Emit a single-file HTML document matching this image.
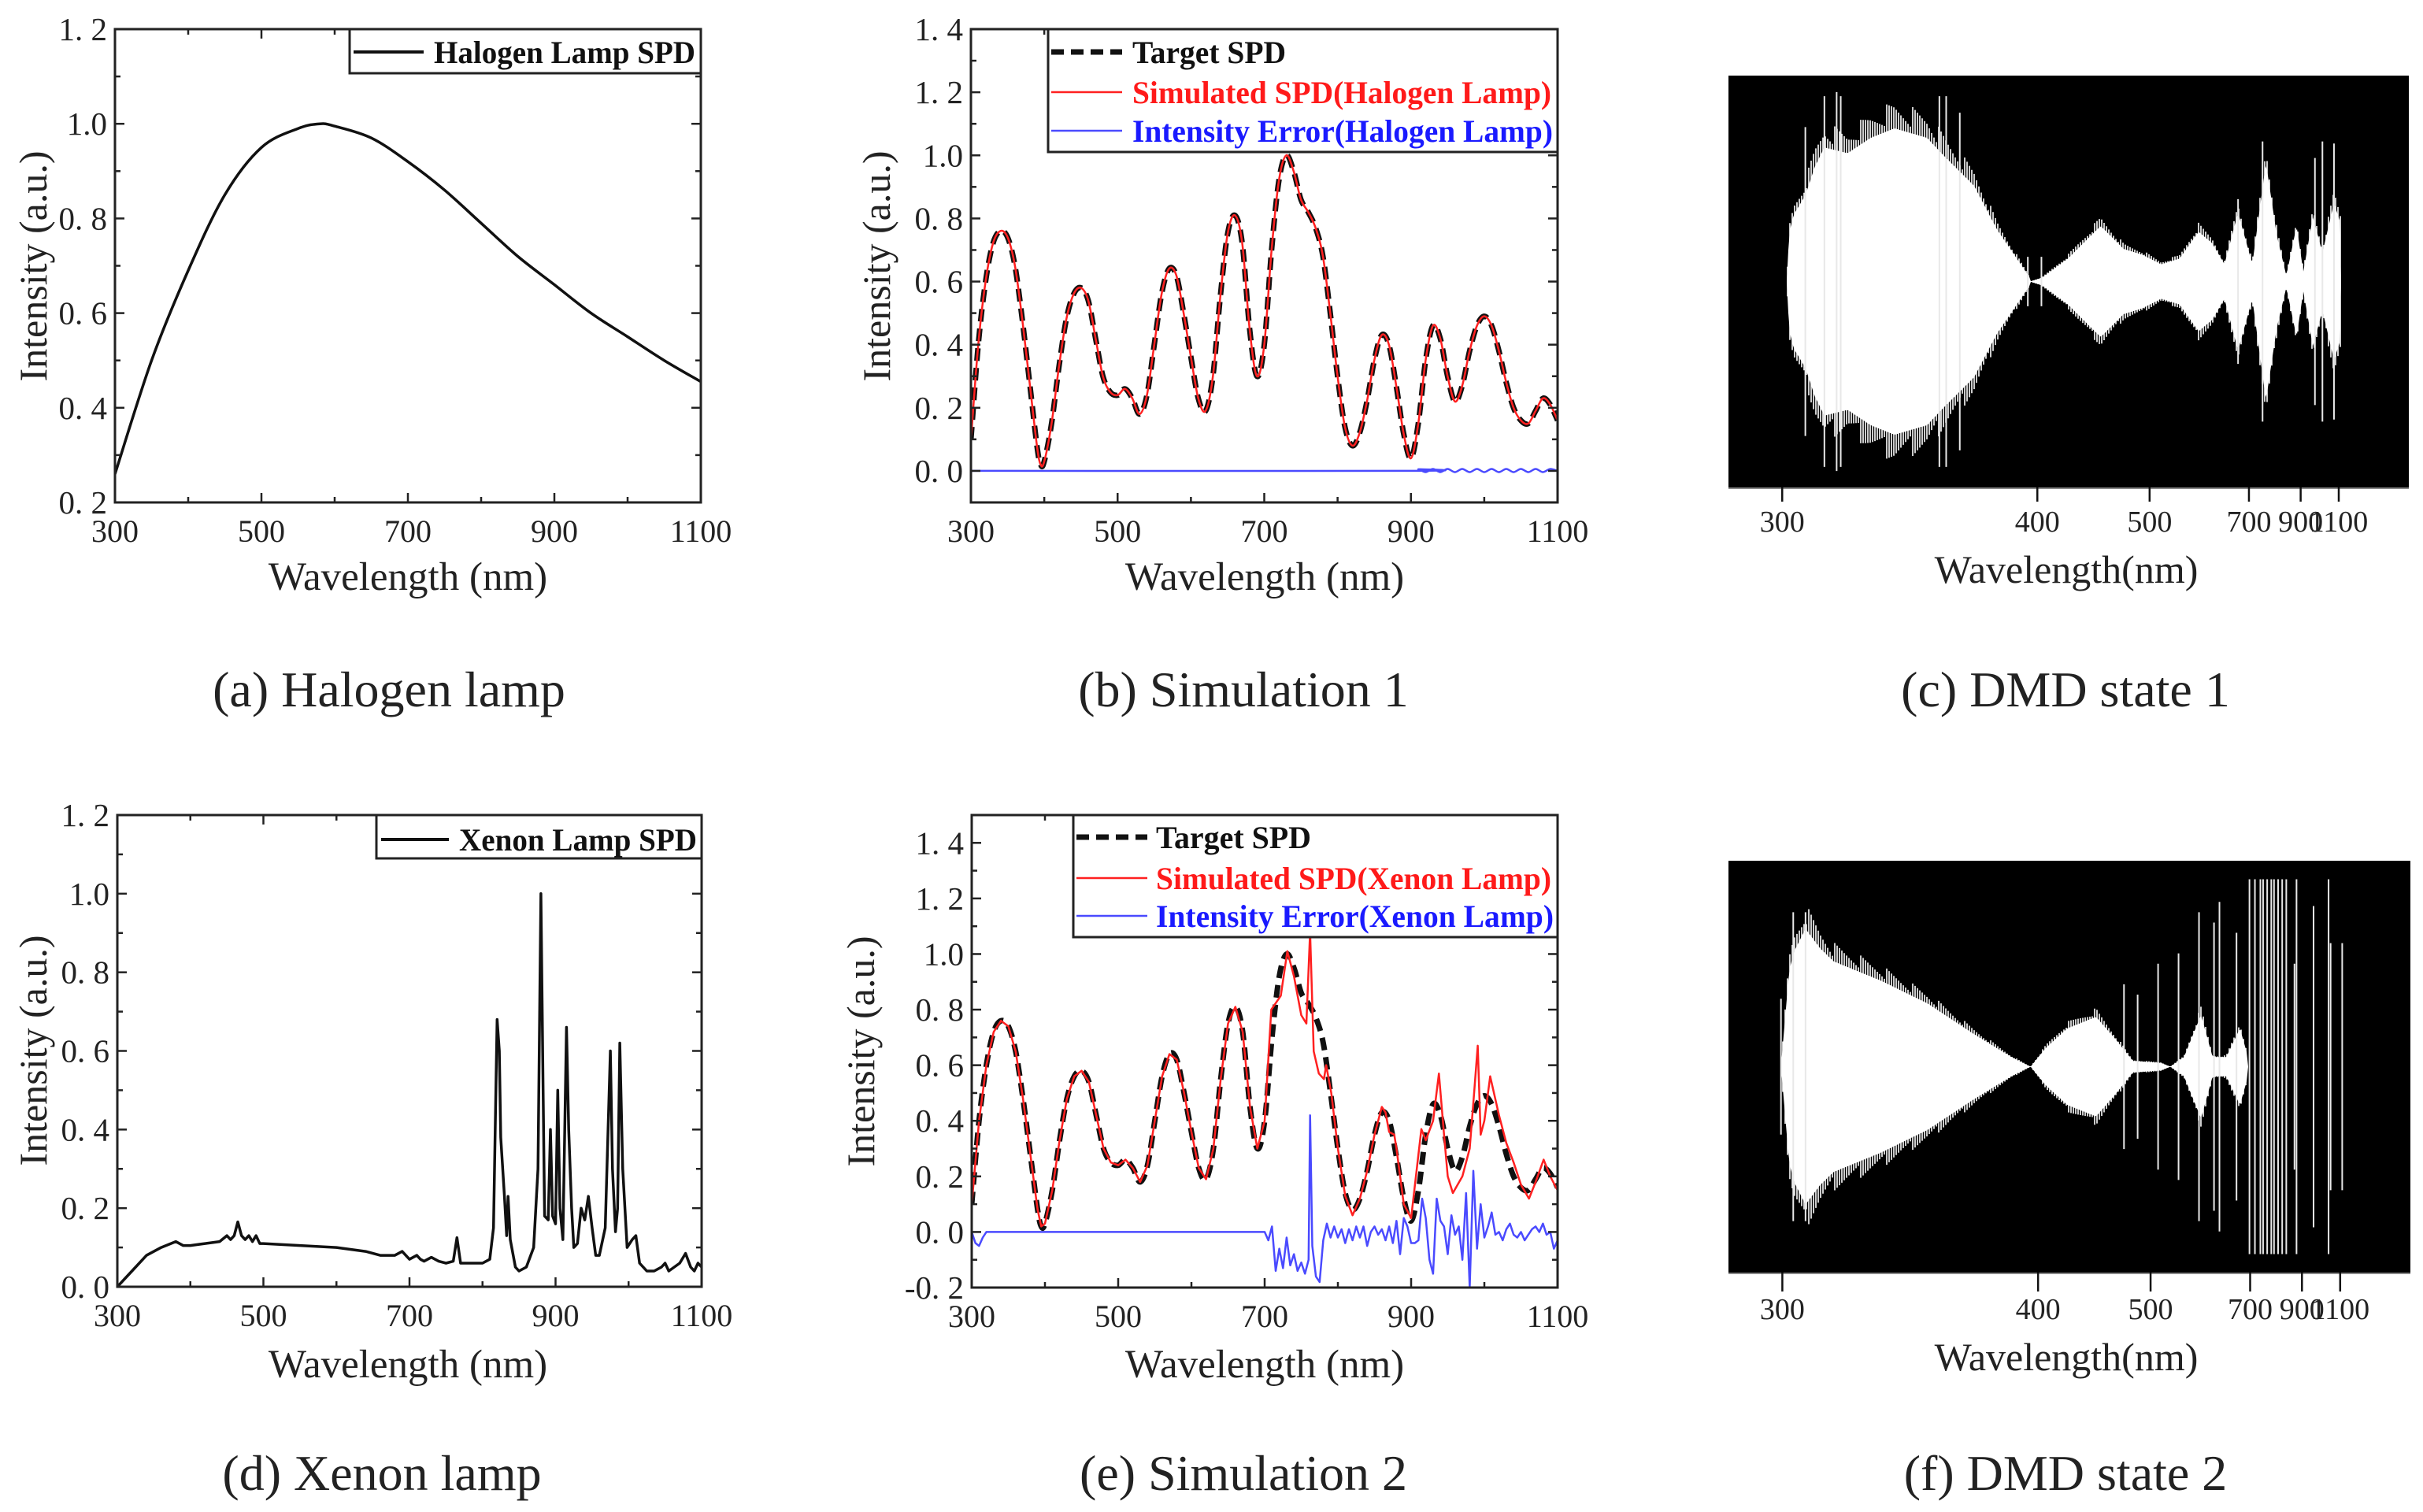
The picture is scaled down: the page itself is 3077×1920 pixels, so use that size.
<!DOCTYPE html>
<html><head><meta charset="utf-8"><style>
html,body{margin:0;padding:0;background:#fff;}
svg{display:block;font-family:"Liberation Serif",serif;}
</style></head><body>
<svg id="fig" width="3077" height="1920" viewBox="0 0 3077 1920" xmlns="http://www.w3.org/2000/svg"></svg>
<script>
// ---------- DATA ----------
const targetWl = [300,310,320,330,340,350,360,370,380,390,395,400,410,420,430,440,450,460,470,480,490,500,510,520,530,540,550,560,570,580,590,600,610,620,630,640,650,660,670,680,690,700,710,720,730,740,750,760,770,780,790,800,810,820,830,840,850,860,870,880,890,900,910,920,930,940,950,960,970,980,990,1000,1010,1020,1030,1040,1050,1060,1070,1080,1090,1100];
const targetVal = [0.1,0.4,0.6,0.72,0.76,0.74,0.65,0.48,0.28,0.08,0.02,0.03,0.15,0.33,0.48,0.56,0.58,0.54,0.42,0.3,0.25,0.24,0.26,0.23,0.18,0.24,0.4,0.56,0.64,0.62,0.5,0.36,0.23,0.19,0.3,0.55,0.75,0.81,0.72,0.45,0.3,0.4,0.7,0.92,1.0,0.95,0.86,0.82,0.77,0.68,0.5,0.3,0.14,0.08,0.12,0.22,0.35,0.43,0.4,0.27,0.12,0.04,0.15,0.35,0.46,0.42,0.3,0.22,0.27,0.38,0.46,0.49,0.46,0.38,0.28,0.2,0.16,0.15,0.19,0.23,0.21,0.16];
const halogenWl = [300,350,400,450,500,550,580,600,650,700,750,800,850,900,950,1000,1050,1100];
const halogenVal = [0.26,0.5,0.69,0.85,0.95,0.99,1.0,0.995,0.97,0.92,0.86,0.79,0.72,0.66,0.6,0.55,0.5,0.455];
const xenonWl = [300,320,340,360,380,390,400,420,440,450,455,460,465,470,475,480,485,490,495,500,550,600,620,640,650,660,680,690,700,710,715,720,730,740,750,760,765,770,780,790,800,810,815,820,823,825,830,833,835,838,845,850,860,870,876,880,883,885,890,893,896,900,903,906,910,915,918,922,925,930,935,940,945,950,955,960,968,975,978,982,985,988,992,998,1005,1010,1015,1025,1035,1045,1050,1055,1070,1078,1085,1090,1095,1100];
const xenonVal = [0,0.04,0.08,0.1,0.115,0.105,0.105,0.11,0.115,0.13,0.12,0.13,0.165,0.13,0.12,0.13,0.115,0.13,0.11,0.11,0.105,0.1,0.095,0.09,0.085,0.08,0.08,0.09,0.07,0.08,0.07,0.065,0.075,0.065,0.06,0.065,0.125,0.06,0.06,0.06,0.06,0.07,0.15,0.68,0.6,0.38,0.23,0.13,0.23,0.12,0.05,0.04,0.05,0.1,0.3,1.0,0.5,0.18,0.17,0.4,0.18,0.16,0.5,0.2,0.12,0.66,0.4,0.2,0.1,0.11,0.2,0.17,0.23,0.15,0.08,0.08,0.15,0.6,0.3,0.14,0.2,0.62,0.3,0.1,0.12,0.13,0.06,0.04,0.04,0.05,0.06,0.04,0.06,0.085,0.05,0.04,0.06,0.05];
const errHalogenWl = [300,900,910,920,930,940,950,960,970,980,990,1000,1010,1020,1030,1040,1050,1060,1070,1080,1090,1100];
const errHalogenVal = [0,0,0.005,-0.004,0.006,-0.004,0.006,-0.004,0.006,-0.004,0.006,-0.004,0.006,-0.004,0.006,-0.004,0.006,-0.004,0.006,-0.004,0.006,0];
const simXenonWl = [700,709,722,731,740,750,757,762,767,774,781,784,791,800,810,820,830,840,850,860,865,870,877,880,890,900,914,920,930,938,945,950,957,970,980,986,991,995,1000,1008,1020,1030,1040,1050,1061,1070,1081,1090,1100];
const simXenonVal = [0.4,0.8,0.85,1.01,0.92,0.78,0.75,1.08,0.65,0.57,0.55,0.6,0.5,0.3,0.13,0.06,0.12,0.22,0.35,0.45,0.43,0.36,0.35,0.3,0.1,0.05,0.37,0.33,0.4,0.57,0.35,0.2,0.14,0.2,0.3,0.5,0.67,0.35,0.4,0.56,0.42,0.32,0.25,0.17,0.12,0.18,0.26,0.2,0.15];
const errXenonWl = [300,305,310,315,320,700,705,710,715,720,725,730,735,740,745,750,755,760,762,765,770,775,780,785,790,795,800,805,810,815,820,825,830,835,840,845,850,855,860,865,870,875,880,885,890,895,900,905,910,915,920,925,930,935,940,945,950,955,960,965,970,975,980,985,990,995,1000,1005,1010,1015,1020,1025,1030,1035,1040,1045,1050,1055,1060,1065,1070,1075,1080,1085,1090,1095,1100];
const errXenonVal = [0,-0.04,-0.05,-0.02,0,0,-0.03,0.02,-0.14,-0.06,-0.13,-0.02,-0.12,-0.08,-0.14,-0.11,-0.15,-0.1,0.42,-0.05,-0.16,-0.18,-0.03,0.03,-0.02,0.02,-0.02,0.01,-0.04,0.01,-0.03,0.02,-0.02,0.02,-0.05,0,0.02,-0.01,0.01,-0.03,0.02,-0.04,0.04,-0.08,0.05,0.02,-0.04,-0.04,-0.03,0.12,0.05,-0.1,-0.15,0.12,0.04,0.02,-0.08,0.06,-0.01,0.02,-0.1,0.14,-0.2,0.22,-0.06,0.1,-0.02,0.02,0.07,-0.01,0,-0.03,0.01,0.03,-0.01,-0.02,0,-0.03,-0.01,0.01,0.02,0,0.03,-0.01,0,-0.06,-0.03];
const xTickLabels = ["300","500","700","900","1100"];
const yTickLabelsA = ["0. 2","0. 4","0. 6","0. 8","1.0","1. 2"];
const yTickLabelsB = ["0. 0","0. 2","0. 4","0. 6","0. 8","1.0","1. 2","1. 4"];
const yTickLabelsD = ["0. 0","0. 2","0. 4","0. 6","0. 8","1.0","1. 2"];
const yTickLabelsE = ["-0. 2","0. 0","0. 2","0. 4","0. 6","0. 8","1.0","1. 2","1. 4"];
// DMD envelopes: column position (fraction of image width) and half-amplitude (fraction of half height)
const dmd1Pos = [0.086,0.089,0.096,0.113,0.127,0.141,0.175,0.209,0.244,0.292,0.313,0.361,0.395,0.443,0.443,0.461,0.499,0.547,0.581,0.608,0.636,0.663,0.691,0.711,0.729,0.749,0.77,0.79,0.806,0.82,0.835,0.845,0.859,0.873,0.89,0.9,0.9];
const dmd1Amp = [0.0,0.25,0.35,0.45,0.6,0.7,0.67,0.75,0.8,0.75,0.67,0.5,0.27,0.02,0.0,0.02,0.12,0.29,0.17,0.14,0.09,0.12,0.26,0.2,0.09,0.36,0.09,0.62,0.24,0.03,0.29,0.05,0.34,0.15,0.41,0.3,0.0];
const dmd1SpikePos = [0.113,0.141,0.159,0.165,0.31,0.32,0.34,0.44,0.46,0.749,0.785,0.862,0.873,0.89];
const dmd1SpikeAmp = [0.75,0.9,0.92,0.9,0.9,0.9,0.82,0.12,0.12,0.4,0.68,0.6,0.68,0.67];
const dmd2Pos = [0.077,0.089,0.096,0.113,0.134,0.154,0.223,0.292,0.36,0.415,0.443,0.466,0.497,0.539,0.566,0.593,0.634,0.648,0.668,0.693,0.71,0.73,0.75,0.762,0.762];
const dmd2Amp = [0.0,0.5,0.6,0.72,0.62,0.55,0.45,0.33,0.17,0.05,0.0,0.1,0.2,0.26,0.15,0.03,0.02,0.0,0.05,0.27,0.05,0.05,0.2,0.05,0.0];
const dmd2SpikePos = [0.077,0.095,0.113,0.58,0.6,0.63,0.66,0.69,0.712,0.72,0.745,0.764,0.772,0.78,0.784,0.79,0.796,0.8,0.806,0.812,0.818,0.83,0.833,0.858,0.88,0.883,0.9];
const dmd2SpikeAmp = [0.33,0.75,0.75,0.4,0.35,0.5,0.55,0.75,0.7,0.8,0.65,0.91,0.91,0.91,0.91,0.91,0.91,0.91,0.91,0.91,0.91,0.5,0.91,0.78,0.91,0.6,0.6];
const dmdTickLabels = ["300","400","500","700","900","1100"];
const dmdTickFrac = [0.079,0.454,0.619,0.765,0.841,0.897];

// ---------- HELPERS ----------
const NS = "http://www.w3.org/2000/svg";
const svg = document.getElementById('fig');
function el(tag, attrs, parent){ const e=document.createElementNS(NS,tag); for(const k in attrs) e.setAttribute(k,attrs[k]); (parent||svg).appendChild(e); return e; }
function txt(s, attrs, parent){ const e=el('text',attrs,parent); e.textContent=s; return e; }
function smoothPath(pts){ let d='M'+pts[0][0].toFixed(1)+','+pts[0][1].toFixed(1);
  for(let i=0;i<pts.length-1;i++){ const p0=pts[Math.max(0,i-1)],p1=pts[i],p2=pts[i+1],p3=pts[Math.min(pts.length-1,i+2)];
    const c1=[p1[0]+(p2[0]-p0[0])/6,p1[1]+(p2[1]-p0[1])/6], c2=[p2[0]-(p3[0]-p1[0])/6,p2[1]-(p3[1]-p1[1])/6];
    d+=' C'+c1[0].toFixed(1)+','+c1[1].toFixed(1)+' '+c2[0].toFixed(1)+','+c2[1].toFixed(1)+' '+p2[0].toFixed(1)+','+p2[1].toFixed(1);} return d; }
function linePath(pts){ return pts.map((p,i)=>(i?'L':'M')+p[0].toFixed(1)+','+p[1].toFixed(1)).join(' '); }

function makeChart(name, box, ymin, ymax, yStart, yLabels, ytitleX, ytitleY, xtitleX, xtitleY){
  const g=el('g',{});  
  const X=w=>box.x0+(w-300)/800*(box.x1-box.x0);
  const Y=v=>box.y1-(v-ymin)/(ymax-ymin)*(box.y1-box.y0);
  const clipId=name+'-clip';
  const cp=el('clipPath',{id:clipId},g); el('rect',{x:box.x0,y:box.y0,width:box.x1-box.x0,height:box.y1-box.y0},cp);
  const plot=el('g',{'clip-path':'url(#'+clipId+')'},g);
   
  const ticks=el('g',{stroke:'#222','stroke-width':2.5},g);
  for(let w=300;w<=1100;w+=100){ const L=(w%200===100)?12:7; const x=X(w);
    el('line',{x1:x,y1:box.y1,x2:x,y2:box.y1-L},ticks); el('line',{x1:x,y1:box.y0,x2:x,y2:box.y0+L},ticks);}
  for(let k=0;;k++){ const v=Math.round((ymin+k*0.1)*10)/10; if(v>ymax+1e-6)break; const y=Y(v);
    const major=Math.abs(Math.round((v-yStart)*10))%2===0; const L=major?12:7;
    el('line',{x1:box.x0,y1:y,x2:box.x0+L,y2:y},ticks); el('line',{x1:box.x1,y1:y,x2:box.x1-L,y2:y},ticks);}
  xTickLabels.forEach(s=>{ const t=txt(s,{x:X(+s),y:box.y1+50,'font-size':40,'text-anchor':'middle',fill:'#222'},g);
     });
  yLabels.forEach((s,i)=>{ const v=yStart+i*0.2; const t=txt(s,{x:box.x0-10,y:Y(v)+14,'font-size':41,'text-anchor':'end',fill:'#222'},g);
     });
  const xt=txt('Wavelength (nm)',{x:xtitleX,y:xtitleY+17,'font-size':51,'text-anchor':'middle',fill:'#222'},g);
   
  const yt=txt('Intensity (a.u.)',{x:0,y:0,'font-size':50,'text-anchor':'middle',fill:'#222',transform:'translate('+(ytitleX+17)+','+ytitleY+') rotate(-90)'},g);
   
  return {g,plot,X,Y,box};
}
function frame(c){ const r=el('rect',{x:c.box.x0,y:c.box.y0,width:c.box.x1-c.box.x0,height:c.box.y1-c.box.y0,fill:'none',stroke:'#222','stroke-width':3},c.g);
    }
function series(c, wl, val, smooth, attrs, name){ const pts=wl.map((w,i)=>[c.X(w),c.Y(val[i])]);
  const p=el('path',Object.assign({d:smooth?smoothPath(pts):linePath(pts),fill:'none','stroke-linejoin':'round'},attrs),c.plot);
    return p; }
function legendBox(c,x0,y1,rows){ const lg=el('g',{},c.g);  
  el('rect',{x:x0,y:c.box.y0,width:c.box.x1-x0,height:y1-c.box.y0,fill:'#fff',stroke:'#222','stroke-width':3},lg);
  rows.forEach(r=>{ const e=el('g',{},lg);  
    el('line',Object.assign({x1:r.lx0,x2:r.lx1,y1:r.y,y2:r.y},r.line),e);
    txt(r.text,{x:r.tx,y:r.y+14,'font-size':40,'font-weight':'bold',fill:r.color,textLength:r.tw,lengthAdjust:'spacingAndGlyphs'},e);});
}
function caption(s,x,y,name){ const t=txt(s,{x:x,y:y+22,'font-size':64,'text-anchor':'middle',fill:'#222'});   }

// ---------- (a) Halogen ----------
const ca=makeChart('chart-halogen',{x0:146,x1:890,y0:37,y1:638},0.2,1.2,0.2,yTickLabelsA,42,338,518,732);
series(ca,halogenWl,halogenVal,true,{stroke:'#111','stroke-width':3.5},'halogen-spd-line');
frame(ca);
legendBox(ca,444,93,[{y:66,lx0:449,lx1:538,tx:551,tw:332,text:'Halogen Lamp SPD',color:'#111',line:{stroke:'#111','stroke-width':4}}]);

// ---------- (b) Simulation 1 ----------
const cb=makeChart('chart-simulation-1',{x0:1233,x1:1978,y0:37,y1:638},-0.1,1.4,0.0,yTickLabelsB,1113,338,1606,732);
series(cb,errHalogenWl,errHalogenVal,true,{stroke:'#4a4aff','stroke-width':2.5},'error-halogen-line');
series(cb,targetWl,targetVal,true,{stroke:'#111','stroke-width':7,'stroke-dasharray':'16 9'},'target-spd-line');
series(cb,targetWl,targetVal,true,{stroke:'#ff2020','stroke-width':2.5},'simulated-halogen-line');
frame(cb);
legendBox(cb,1331,193,[
 {y:66,lx0:1335,lx1:1425,tx:1438,tw:195,text:'Target SPD',color:'#111',line:{stroke:'#111','stroke-width':7,'stroke-dasharray':'16 9'}},
 {y:117,lx0:1335,lx1:1425,tx:1438,tw:532,text:'Simulated SPD(Halogen Lamp)',color:'#ff1a1a',line:{stroke:'#ff2020','stroke-width':2.5}},
 {y:166,lx0:1335,lx1:1425,tx:1438,tw:534,text:'Intensity Error(Halogen Lamp)',color:'#1a1aff',line:{stroke:'#4a4aff','stroke-width':2.5}}]);

// ---------- (d) Xenon ----------
const cd=makeChart('chart-xenon',{x0:149,x1:891,y0:1035,y1:1634},0,1.2,0,yTickLabelsD,42,1334,518,1732);
series(cd,xenonWl,xenonVal,false,{stroke:'#111','stroke-width':3.5},'xenon-spd-line');
frame(cd);
legendBox(cd,478,1090,[{y:1066,lx0:484,lx1:570,tx:583,tw:302,text:'Xenon Lamp SPD',color:'#111',line:{stroke:'#111','stroke-width':4}}]);

// ---------- (e) Simulation 2 ----------
const ce=makeChart('chart-simulation-2',{x0:1234,x1:1978,y0:1035,y1:1635},-0.2,1.5,-0.2,yTickLabelsE,1093,1335,1606,1732);
series(ce,errXenonWl,errXenonVal,false,{stroke:'#4a4aff','stroke-width':2.5},'error-xenon-line');
series(ce,targetWl,targetVal,true,{stroke:'#111','stroke-width':7,'stroke-dasharray':'16 9'},'target-spd-line');
const simWl=[], simVal=[];
targetWl.forEach((w,i)=>{ if(w<700){simWl.push(w);simVal.push(targetVal[i]);} });
simXenonWl.forEach((w,i)=>{simWl.push(w);simVal.push(simXenonVal[i]);});
series(ce,simWl,simVal,false,{stroke:'#ff2020','stroke-width':2.5},'simulated-xenon-line');
frame(ce);
legendBox(ce,1363,1190,[
 {y:1063,lx0:1367,lx1:1457,tx:1468,tw:197,text:'Target SPD',color:'#111',line:{stroke:'#111','stroke-width':7,'stroke-dasharray':'16 9'}},
 {y:1115,lx0:1367,lx1:1457,tx:1468,tw:502,text:'Simulated SPD(Xenon Lamp)',color:'#ff1a1a',line:{stroke:'#ff2020','stroke-width':2.5}},
 {y:1163,lx0:1367,lx1:1457,tx:1468,tw:505,text:'Intensity Error(Xenon Lamp)',color:'#1a1aff',line:{stroke:'#4a4aff','stroke-width':2.5}}]);

// ---------- DMD panels ----------
function interp(pos,amp,f){ if(f<pos[0]||f>pos[pos.length-1])return 0; for(let i=0;i<pos.length-1;i++){ if(f>=pos[i]&&f<=pos[i+1]){ const d=pos[i+1]-pos[i]; return d<=0?amp[i+1]:amp[i]+(amp[i+1]-amp[i])*(f-pos[i])/d; } } return 0; }
function dmd(name,x0,x1,y0,y1,pos,amp,spos,samp,tickY,labelY,titleY){
  const g=el('g',{});  
  const bg=el('rect',{x:x0,y:y0,width:x1-x0,height:y1-y0,fill:'#000'},g);  
  const W=x1-x0, cy=(y0+y1)/2, H=(y1-y0)/2;
  let top=[],bot=[];
  for(let px=0;px<=W;px+=2){ const a=interp(pos,amp,px/W)*0.93; top.push([x0+px,cy-a*H]); bot.unshift([x0+px,cy+a*H]); }
  const env=el('path',{d:linePath(top.concat(bot))+'Z',fill:'#fff'},g);  
  const tex=el('g',{stroke:'#fff','stroke-width':1.6},g);
  for(let px=0;px<=W;px+=3){ const a=interp(pos,amp,px/W); if(a<=0)continue; const k=((px*7)%11)/11; const e=a*(0.97+0.14*k);
    el('line',{x1:x0+px,x2:x0+px,y1:cy-e*H,y2:cy+e*H},tex);}
  const sp=el('g',{stroke:'#e8e8e8','stroke-width':2},g);
  spos.forEach((f,i)=>{ const l=el('line',{x1:x0+f*W,x2:x0+f*W,y1:cy-samp[i]*H,y2:cy+samp[i]*H},sp);   });
  el('line',{x1:x0,x2:x1,y1:y1+1,y2:y1+1,stroke:'#888','stroke-width':2},g);
  dmdTickLabels.forEach((s,i)=>{ const x=x0+dmdTickFrac[i]*W; el('line',{x1:x,x2:x,y1:y1,y2:tickY,stroke:'#111','stroke-width':2.5},g);
    const t=txt(s,{x:x,y:labelY+13,'font-size':38,'text-anchor':'middle',fill:'#222'},g);  });
  const tt=txt('Wavelength(nm)',{x:2624,y:titleY+17,'font-size':50,'text-anchor':'middle',fill:'#222'},g);  
}
dmd('dmd-state-1',2195,3059,96,619,dmd1Pos,dmd1Amp,dmd1SpikePos,dmd1SpikeAmp,637,662,723);
dmd('dmd-state-2',2195,3061,1093,1616,dmd2Pos,dmd2Amp,dmd2SpikePos,dmd2SpikeAmp,1640,1662,1723);

caption('(a) Halogen lamp',494,875,'caption-a');
caption('(b) Simulation 1',1579,875,'caption-b');
caption('(c) DMD state 1',2623,875,'caption-c');
caption('(d) Xenon lamp',485,1870,'caption-d');
caption('(e) Simulation 2',1579,1870,'caption-e');
caption('(f) DMD state 2',2623,1870,'caption-f');
</script>
</body></html>
